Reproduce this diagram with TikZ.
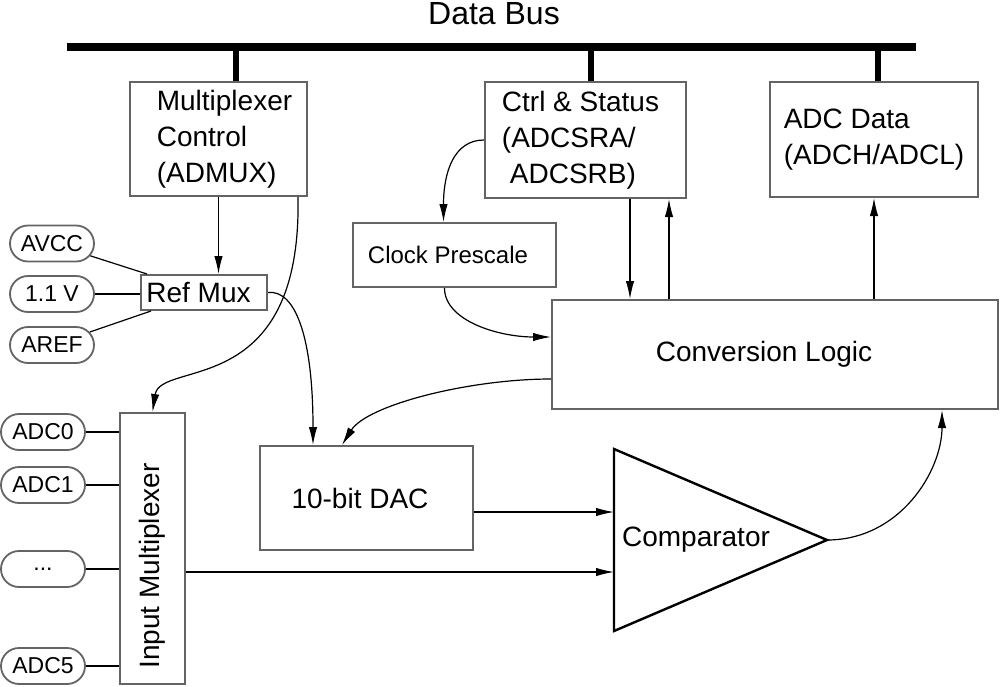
\documentclass[tikz,border=0pt]{standalone}
\usepackage{fontspec}
\setmainfont{Liberation Sans}
\usetikzlibrary{arrows.meta,shapes.misc}
\definecolor{boxgray}{RGB}{100,100,100}

\begin{document}
\begin{tikzpicture}[x=0.5pt,y=-0.5pt,
  font=\fontsize{14}{18}\selectfont,
  box/.style={draw=boxgray, line width=1pt, inner sep=0pt},
  pill/.style={draw=boxgray, line width=0.9pt, rounded rectangle, inner sep=0pt,
    minimum width=42pt, minimum height=18pt, font=\fontsize{11.5}{14}\selectfont},
  link/.style={line width=0.6pt},
  arr/.style={link, -{Latex[length=9pt,width=4.2pt]}},
  bus/.style={line width=4pt},
  tap/.style={line width=3pt}]
  \useasboundingbox (0,0) rectangle (1000,686);

  % data bus
  \node[anchor=base, inner sep=0pt, font=\fontsize{16}{18}\selectfont] (busname) at (494,24) {Data Bus};
  \coordinate (buswest) at (67,47);
  \coordinate (buseast) at (916,47);
  \draw[bus] (buswest) -- (buseast);

  % registers on the bus
  \node[box, minimum width=88.5pt, minimum height=57pt, align=left] (muxctl) at (218.5,139)
    {\hspace*{6pt}Multiplexer\\\hspace*{6pt}Control\\\hspace*{6pt}(ADMUX)};
  \node[box, minimum width=100.5pt, minimum height=58pt, align=left] (ctrl) at (585.5,140)
    {Ctrl \& Status\hspace*{5pt}\\(ADCSRA/\\\hspace*{4pt}ADCSRB)};
  \node[box, minimum width=104pt, minimum height=57.5pt, align=left] (adcdata) at (874,139.5)
    {ADC Data\\(ADCH/ADCL)};
  \draw[tap] ([xshift=8.75pt]muxctl.north) -- ([xshift=8.75pt]muxctl.north |- buswest);
  \draw[tap] ([xshift=2.75pt]ctrl.north) -- ([xshift=2.75pt]ctrl.north |- buswest);
  \draw[tap] ([xshift=2pt]adcdata.north) -- ([xshift=2pt]adcdata.north |- buswest);

  % internal blocks
  \node[box, minimum width=101.5pt, minimum height=32pt, font=\fontsize{12}{14}\selectfont] (clock) at (454.5,255)
    {Clock Prescale\hspace*{6.5pt}};
  \node[box, minimum width=63pt, minimum height=17.5pt] (refmux) at (204,292.5) {Ref Mux\hspace*{5.5pt}};
  \node[box, minimum width=223pt, minimum height=54.5pt] (conv) at (775,354.5) {Conversion Logic\hspace*{11pt}};
  \node[box, minimum width=106.5pt, minimum height=52pt] (dac) at (366.5,498) {10-bit DAC\hspace*{6.5pt}};
  \node[box, minimum width=32.5pt, minimum height=135.5pt] (imux) at (152.5,548.5)
    {\rotatebox{90}{Input Multiplexer\hspace*{17.5pt}}};

  % comparator
  \coordinate (cmptop) at (614,449);
  \coordinate (cmpbot) at (614,631);
  \coordinate (cmpout) at (827,540);
  \coordinate (cmpa) at (614,512);
  \coordinate (cmpb) at (614,572);
  \draw[line width=1.2pt] (cmptop) -- (cmpout) -- (cmpbot) -- cycle;
  \node (cmptext) at (696,540) {Comparator};

  % reference inputs
  \node[pill] (avcc) at (52,243.5) {AVCC};
  \node[pill] (onev) at (52,294) {1.1 V};
  \node[pill] (aref) at (52,345) {AREF};
  \draw[link] (avcc) -- ([xshift=3.5pt]refmux.north west);
  \draw[link] (onev.east) -- (onev.east -| refmux.west);
  \draw[link] (aref) -- ([xshift=5.5pt]refmux.south west);

  % analog inputs
  \node[pill] (adc0) at (43,432) {ADC0};
  \node[pill] (adc1) at (43,485) {ADC1};
  \node[pill] (adcx) at (43,569) {...};
  \node[pill] (adc5) at (43,666) {ADC5};
  \foreach \p in {adc0,adc1,adcx,adc5}
    \draw[link] (\p.east) -- (\p.east -| imux.west);

  % control and data paths
  \draw[arr] (muxctl.south) -- (muxctl.south |- refmux.north);
  \draw[arr] ([xshift=39.75pt]muxctl.south) .. controls +(4,204) and +(8,-53) .. (imux.north);
  \draw[arr] (refmux.east) .. controls +(28,-3) and +(0,-106) .. ([xshift=-26.75pt]dac.north);
  \draw[arr] (ctrl.west) .. controls +(-30,0) and +(0,-50) .. ([xshift=-5.5pt]clock.north);
  \draw[arr] ([xshift=22.25pt]ctrl.south) -- ([xshift=22.25pt]ctrl.south |- conv.north);
  \draw[arr] ([xshift=41.75pt]ctrl.south |- conv.north) -- ([xshift=41.75pt]ctrl.south);
  \draw[arr] (adcdata.south |- conv.north) -- (adcdata.south);
  \draw[arr] ([xshift=-5pt]clock.south) .. controls +(0,33) and +(-52,0) .. ([yshift=8.75pt]conv.west);
  \draw[arr] ([yshift=-12.25pt]conv.west) .. controls +(-82,0) and +(25,-40) .. ([xshift=-12.25pt]dac.north);
  \draw[arr] (dac.east |- cmpa) -- (cmpa);
  \draw[arr] (imux.east |- cmpb) -- (cmpb);
  \draw[arr] (cmpout) .. controls +(73,0) and +(0,61) .. ([xshift=83.5pt]conv.south);
\end{tikzpicture}
\end{document}
